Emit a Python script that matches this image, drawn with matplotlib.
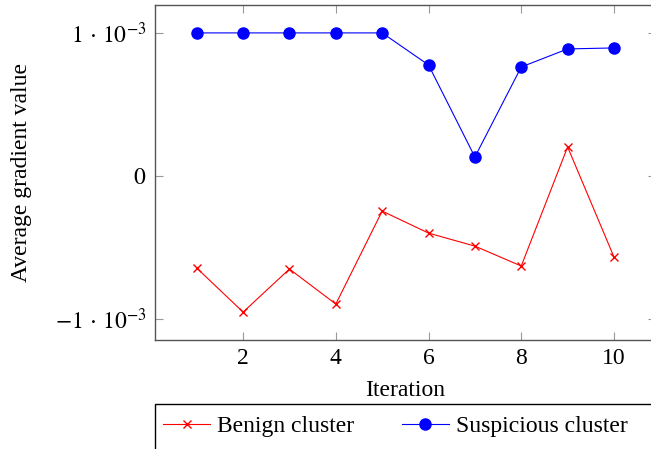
import numpy as np
import matplotlib
matplotlib.use("Agg")
import matplotlib.pyplot as plt
from matplotlib.patches import Rectangle
from matplotlib.ticker import FixedLocator, FuncFormatter

plt.rcParams["font.family"] = ["Liberation Serif", "DejaVu Serif"]
plt.rcParams["mathtext.fontset"] = "stix"

# Data (values in units of 1e-3)
iterations = [1, 2, 3, 4, 5, 6, 7, 8, 9, 10]
benign = [-0.643, -0.951, -0.650, -0.895, -0.245, -0.399, -0.490, -0.629, 0.203, -0.566]
suspicious = [1.0, 1.0, 1.0, 1.0, 1.0, 0.776, 0.133, 0.762, 0.888, 0.895]

benign = np.array(benign) * 1e-3
suspicious = np.array(suspicious) * 1e-3

W, H = 651, 449
fig = plt.figure(figsize=(W / 100, H / 100), dpi=100)
ax = fig.add_axes([155 / W, 1 - 340 / H, 500.7 / W, 335 / H])

ax.plot(iterations, benign, color="red", marker="x", markersize=6,
        linewidth=0.8, label="Benign cluster")
ax.plot(iterations, suspicious, color="blue", marker="o", markersize=8,
        linewidth=0.8, label="Suspicious cluster")

ax.set_xlim(0.1, 10.9)
ax.set_ylim(-1.146e-3, 1.195e-3)

ax.xaxis.set_major_locator(FixedLocator([2, 4, 6, 8, 10]))
ax.yaxis.set_major_locator(FixedLocator([-1e-3, 0, 1e-3]))


def ylab(v, pos):
    if abs(v) < 1e-12:
        return "$0$"
    if v > 0:
        return r"$1\,\cdot\,10^{-3}$"
    return r"$-1\,\cdot\,10^{-3}$"


ax.yaxis.set_major_formatter(FuncFormatter(ylab))
ax.tick_params(direction="in", length=6, width=0.8, color="#999999",
               labelsize=17, top=True, right=True, pad=6)
for s in ax.spines.values():
    s.set_color("#555555")
    s.set_linewidth(1.0)

ax.set_xlabel("Iteration", fontsize=17)
ax.set_ylabel("Average gradient value", fontsize=17)
ax.xaxis.set_label_coords(0.5, (340 - 380) / 335)
ax.yaxis.set_label_coords((32 - 155) / 500.7, 0.5)

leg = fig.legend(loc="center left", bbox_to_anchor=(163 / W, 1 - 426 / H),
                 ncol=2, fontsize=17, frameon=False, handlelength=2.0,
                 handletextpad=0.3, columnspacing=2.0, borderpad=0,
                 borderaxespad=0)

fig.patches.append(Rectangle((155 / W, -0.1), 0.9, 1.1 - 404 / H, transform=fig.transFigure,
                             fill=False, edgecolor="black", linewidth=1.0))

fig.savefig("out.png", dpi=100)
